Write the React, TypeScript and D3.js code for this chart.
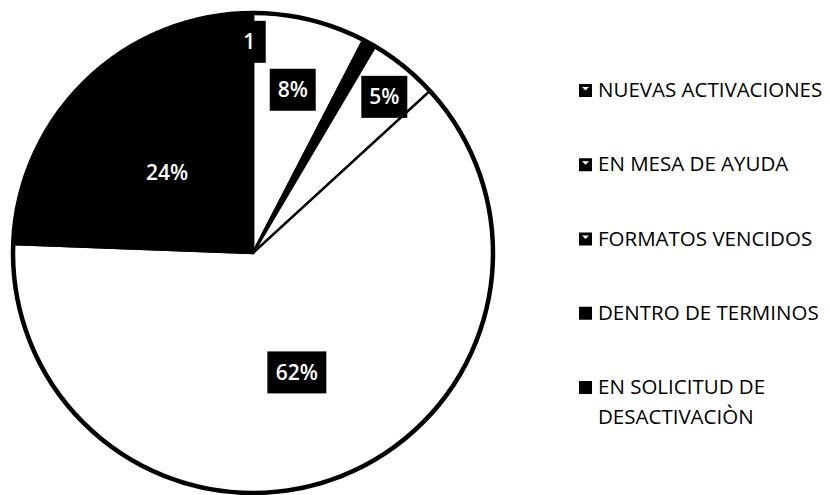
import React from 'react';
import * as d3 from 'd3';

// estado de las cuentas (en %)
const categories = [
  'NUEVAS ACTIVACIONES',
  'EN MESA DE AYUDA',
  'FORMATOS VENCIDOS',
  'DENTRO DE TERMINOS',
  'EN SOLICITUD DE DESACTIVACIÒN',
];
const values = [7.6, 0.9, 4.7, 62.4, 24.4];
const labels = ['8%', '1', '5%', '62%', '24%'];
const legendLines = [
  ['NUEVAS ACTIVACIONES'],
  ['EN MESA DE AYUDA'],
  ['FORMATOS VENCIDOS'],
  ['DENTRO DE TERMINOS'],
  ['EN SOLICITUD DE', 'DESACTIVACIÒN'],
];

const fills = ['#ffffff', '#000000', '#ffffff', '#ffffff', '#000000'];
// where Excel dropped each data label: fraction of radius, angle shift (deg)
const labelRadius = [0.7, 0.88, 0.85, 0.53, 0.49];
const labelShift = [0, -30, 1, 0, -3];

const W = 830;
const H = 495;
const cx = 253;
const cy = 253;
const R = 240;
const font = '"Open Sans", Lato, sans-serif';

export default function App() {
  const pie = d3.pie<number>().sort(null).value(d => d);
  const arcs = pie(values);
  const arc = d3.arc<d3.PieArcDatum<number>>().innerRadius(0).outerRadius(R);

  const legendY = d3.scalePoint<string>().domain(categories).range([97, 394]);

  return (
    <svg width={W} height={H} style={{ position: 'absolute', left: 0, top: 0, background: '#fff' }}>
      <g transform={`translate(${cx},${cy})`}>
        {arcs.map((a, i) => (
          <path key={i} d={arc(a) || ''} fill={fills[i]} stroke="#000" strokeWidth={2.5} />
        ))}
        <circle r={R} fill="none" stroke="#000" strokeWidth={4.5} />
        {arcs.map((a, i) => {
          const ang = (a.startAngle + a.endAngle) / 2 + (labelShift[i] * Math.PI) / 180;
          const r = R * labelRadius[i];
          const x = Math.sin(ang) * r;
          const y = -Math.cos(ang) * r;
          const tw = labels[i].length * 13 + 20;
          return (
            <g key={i} transform={`translate(${x},${y})`}>
              <rect x={-tw / 2} y={-21} width={tw} height={42} fill="#000" />
              <text
                textAnchor="middle"
                dy="0.36em"
                fill="#fff"
                fontFamily={font}
                fontWeight="600"
                fontSize={21}
              >
                {labels[i]}
              </text>
            </g>
          );
        })}
      </g>
      <g>
        {categories.map((c, i) => {
          const y = legendY(c) as number;
          return (
            <g key={c}>
              <rect x={579} y={y - 13} width={13} height={13} fill="#000" />
              <path d={`M${582},${y - 10} h7 l-3.5,3.5 z`} fill="#fff" opacity={i < 3 ? 1 : 0} />
              <text x={598} y={y} fontFamily={font} fontSize={20.5} fill="#000">
                {legendLines[i].map((t, j) => (
                  <tspan key={j} x={598} dy={j === 0 ? 0 : 30}>
                    {t}
                  </tspan>
                ))}
              </text>
            </g>
          );
        })}
      </g>
    </svg>
  );
}
